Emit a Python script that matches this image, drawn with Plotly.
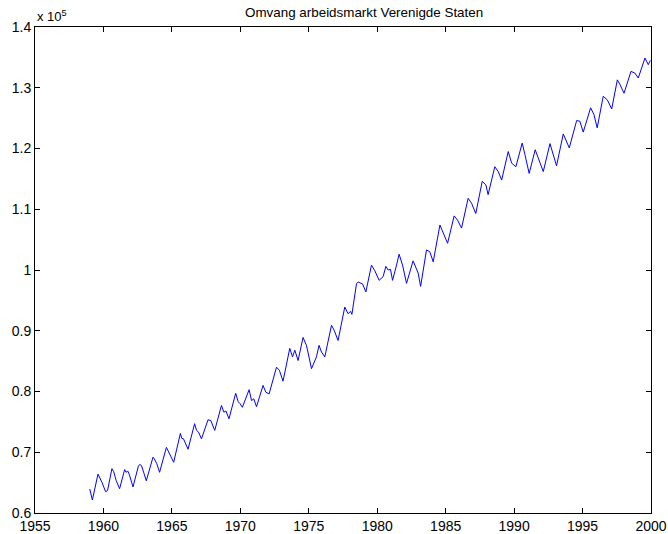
import plotly.graph_objects as go

# Decimal-year positions and employment values (thousands)
years = [
    1959.00, 1959.19, 1959.60, 1959.70, 1959.78, 1959.90, 1960.16, 1960.30, 1960.62, 1960.75,
    1960.92, 1961.18, 1961.55, 1961.65, 1961.78, 1961.88, 1962.16, 1962.55, 1962.65, 1962.78,
    1962.95, 1963.13, 1963.62, 1963.72, 1963.90, 1964.10, 1964.60, 1964.75, 1964.90, 1965.13,
    1965.62, 1965.72, 1965.85, 1966.18, 1966.66, 1966.80, 1966.95, 1967.16, 1967.64, 1967.85,
    1968.00, 1968.13, 1968.62, 1968.80, 1968.95, 1969.17, 1969.66, 1969.85, 1969.98, 1970.15,
    1970.64, 1970.82, 1970.98, 1971.18, 1971.66, 1971.86, 1972.10, 1972.64, 1972.85, 1973.12,
    1973.61, 1973.81, 1973.98, 1974.22, 1974.58, 1974.83, 1975.20, 1975.56, 1975.75, 1975.93,
    1976.17, 1976.66, 1976.85, 1977.14, 1977.63, 1977.87, 1978.05, 1978.15, 1978.49, 1978.62,
    1978.93, 1979.17, 1979.58, 1979.82, 1980.14, 1980.43, 1980.63, 1980.80, 1980.97, 1981.12,
    1981.41, 1981.60, 1981.85, 1982.14, 1982.62, 1982.82, 1982.99, 1983.17, 1983.60, 1983.84,
    1984.09, 1984.58, 1984.82, 1985.14, 1985.62, 1985.87, 1986.16, 1986.64, 1986.89, 1987.20,
    1987.67, 1987.94, 1988.10, 1988.59, 1988.84, 1989.09, 1989.57, 1989.82, 1990.13, 1990.59,
    1990.79, 1991.10, 1991.54, 1991.83, 1992.13, 1992.62, 1992.81, 1993.10, 1993.59, 1993.79,
    1994.03, 1994.57, 1994.80, 1995.05, 1995.59, 1995.83, 1996.07, 1996.51, 1996.81, 1997.13,
    1997.54, 1997.74, 1998.03, 1998.54, 1998.83, 1999.07, 1999.56, 1999.80, 1999.95,
]
employment = [
    63960, 62150, 66400, 66000, 65600, 65000, 63500, 63700, 67300, 66800,
    65400, 64000, 67150, 66700, 66900, 66400, 64300, 67700, 68000, 67800,
    66600, 65300, 69200, 68900, 68100, 66700, 70800, 70100, 69600, 68350,
    73100, 72300, 72200, 70500, 74700, 73600, 73300, 72200, 75350, 75200,
    74300, 73600, 77700, 76600, 76800, 75500, 79700, 78300, 78000, 77400,
    80300, 78500, 78800, 77500, 81000, 79900, 79600, 84000, 83500, 81700,
    87100, 85700, 86800, 85100, 88900, 87600, 83760, 85700, 87600, 86500,
    85700, 90900, 90100, 88400, 93900, 92800, 93200, 92700, 97800, 98000,
    97700, 96400, 100800, 99900, 98300, 98900, 100600, 100000, 100100, 98300,
    100800, 102600, 100800, 97800, 101500, 100300, 99500, 97300, 103300, 103000,
    101350, 107400, 106000, 104400, 108900, 108200, 106900, 111800, 111000, 109300,
    114600, 114000, 112400, 117000, 116200, 114800, 119500, 117600, 117000, 120900,
    119000, 115900, 119800, 118100, 116200, 120800, 119200, 117150, 122400, 121200,
    120100, 124600, 124500, 122700, 126700, 125600, 123400, 128600, 128000, 126500,
    131300, 130500, 129100, 132700, 132400, 131600, 134900, 133800, 134500,
]

x_ticks = [1955, 1960, 1965, 1970, 1975, 1980, 1985, 1990, 1995, 2000]
y_tick_vals = [60000, 70000, 80000, 90000, 100000, 110000, 120000, 130000, 140000]
y_tick_text = ["0.6", "0.7", "0.8", "0.9", "1", "1.1", "1.2", "1.3", "1.4"]

title = "Omvang arbeidsmarkt Verenigde Staten"
font_family = "Liberation Sans, Arial, Helvetica, sans-serif"

fig = go.Figure()
fig.add_trace(go.Scatter(x=years, y=employment, mode="lines",
                         line=dict(color="#0000ff", width=1), showlegend=False,
                         hoverinfo="skip"))

axis_common = dict(showgrid=False, zeroline=False, showline=True, linecolor="black",
                   linewidth=1, mirror="ticks", ticks="inside", ticklen=5,
                   tickcolor="black", tickwidth=1, automargin=False,
                   tickfont=dict(family=font_family, size=14, color="black"))

fig.update_layout(
    width=668, height=534,
    margin=dict(l=35, r=17, t=27, b=21, pad=0, autoexpand=False),
    paper_bgcolor="white", plot_bgcolor="white",
    font=dict(family=font_family, color="black"),
    xaxis=dict(range=[1955, 2000], tickvals=x_ticks,
               ticktext=[str(v) for v in x_ticks], **axis_common),
    yaxis=dict(range=[60000, 140000], tickvals=y_tick_vals, ticktext=y_tick_text,
               **axis_common),
    annotations=[
        dict(text=title, x=0.338, y=1, xref="paper", yref="paper", xanchor="left",
             yanchor="bottom", yshift=5, showarrow=False,
             font=dict(family=font_family, size=13.4, color="black")),
        dict(text="x 10<sup>5</sup>", x=0, y=1, xref="paper", yref="paper",
             xanchor="left", yanchor="bottom", yshift=1, showarrow=False,
             font=dict(family=font_family, size=13, color="black")),
    ],
)

# remove the default page margin so the figure sits at the window's top-left corner
fig.write_html("out.html", config={"displayModeBar": False},
               post_script="document.body.style.margin='0';document.body.style.overflow='hidden';")
